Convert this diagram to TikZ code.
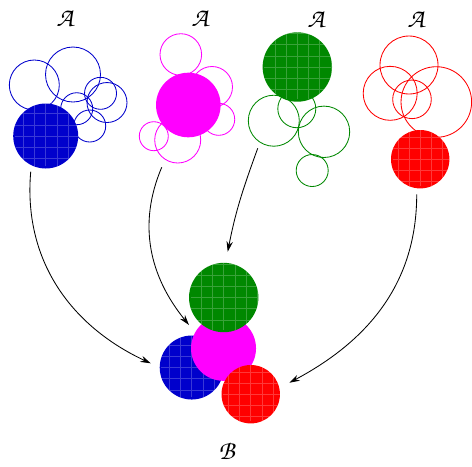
\documentclass[tikz,border=0pt]{standalone}
\usepackage[T1]{fontenc}
\usetikzlibrary{arrows.meta}
\definecolor{setBlue}{RGB}{0,0,204}
\definecolor{setMagenta}{RGB}{255,0,255}
\definecolor{setGreen}{RGB}{0,136,0}
\definecolor{setRed}{RGB}{255,0,0}
\newcommand{\chancery}{\usefont{T1}{pzc}{mb}{it}}
\tikzset{
    EMPTY/.style={inner sep=0mm, outer sep=0mm},
    LABEL/.style={inner sep=0mm, font={\fontsize{19}{22}\chancery}},
    RING/.style={shape=circle, inner sep=0mm, outer sep=0mm, line width=0.6pt},
    BALL/.style={shape=circle, inner sep=0mm, outer sep=0mm},
    CHECKED/.style={BALL, path picture={\draw[white, opacity=0.22, line width=0.4pt]
        ([shift={(0.04,0.06)}]path picture bounding box.south west) grid[step=2.8mm]
        (path picture bounding box.north east);}},
    BLUE_RING/.style={RING, draw=setBlue},
    MAGENTA_RING/.style={RING, draw=setMagenta},
    GREEN_RING/.style={RING, draw=setGreen},
    RED_RING/.style={RING, draw=setRed},
    BLUE_BALL/.style={CHECKED, fill=setBlue},
    MAGENTA_BALL/.style={BALL, fill=setMagenta},
    GREEN_BALL/.style={CHECKED, fill=setGreen},
    RED_BALL/.style={CHECKED, fill=setRed},
    EDGE/.style={draw=black, line width=0.6pt, -{Stealth[length=2.6mm, width=1.6mm]}}
}
\pgfdeclarelayer{edgelayer}
\pgfdeclarelayer{nodelayer}
\pgfsetlayers{edgelayer,nodelayer,main}

\begin{document}
\begin{tikzpicture}
    \useasboundingbox (0,0) rectangle (11.8,-11.65);
    \begin{pgfonlayer}{nodelayer}
        % the four sets A
        \node [LABEL] (1) at (1.625, -0.47) {A};
        \node [LABEL] (2) at (5.0, -0.47) {A};
        \node [LABEL] (3) at (7.9, -0.48) {A};
        \node [LABEL] (4) at (10.4, -0.48) {A};
        \node [BLUE_RING, minimum size=12.5mm] (5) at (0.858, -2.125) {};
        \node [BLUE_RING, minimum size=13.75mm] (6) at (1.825, -1.8625) {};
        \node [BLUE_RING, minimum size=8mm] (7) at (1.918, -2.718) {};
        \node [BLUE_RING, minimum size=8mm] (8) at (2.513, -2.333) {};
        \node [BLUE_RING, minimum size=10mm] (9) at (2.675, -2.563) {};
        \node [BLUE_RING, minimum size=8mm] (10) at (2.243, -3.15) {};
        \node [BLUE_BALL, minimum size=16.25mm] (11) at (1.1425, -3.4) {};
        \node [MAGENTA_RING, minimum size=10.4mm] (12) at (4.52, -1.363) {};
        \node [MAGENTA_RING, minimum size=10.25mm] (13) at (5.3, -2.175) {};
        \node [MAGENTA_RING, minimum size=8mm] (14) at (5.468, -2.983) {};
        \node [MAGENTA_RING, minimum size=11.5mm] (15) at (4.443, -3.5) {};
        \node [MAGENTA_RING, minimum size=7.25mm] (16) at (3.845, -3.405) {};
        \node [MAGENTA_BALL, minimum size=16.15mm] (17) at (4.708, -2.625) {};
        \node [GREEN_RING, minimum size=12.75mm] (18) at (6.845, -3.018) {};
        \node [GREEN_RING, minimum size=9.5mm] (19) at (7.42, -2.718) {};
        \node [GREEN_RING, minimum size=12.85mm] (20) at (8.1, -3.295) {};
        \node [GREEN_RING, minimum size=8mm] (21) at (7.805, -4.263) {};
        \node [GREEN_BALL, minimum size=17.35mm] (22) at (7.433, -1.675) {};
        \node [RED_RING, minimum size=14.5mm] (23) at (10.225, -1.625) {};
        \node [RED_RING, minimum size=13.5mm] (24) at (9.755, -2.333) {};
        \node [RED_RING, minimum size=9.65mm] (25) at (10.3, -2.483) {};
        \node [RED_RING, minimum size=17.65mm] (26) at (10.908, -2.55) {};
        \node [RED_BALL, minimum size=14.6mm] (27) at (10.505, -3.98) {};
        % the set B
        \node [BLUE_BALL, minimum size=16mm] (28) at (4.793, -9.188) {};
        \node [MAGENTA_BALL, minimum size=16.25mm] (29) at (5.588, -8.708) {};
        \node [GREEN_BALL, minimum size=17.35mm] (30) at (5.593, -7.438) {};
        \node [RED_BALL, minimum size=14.6mm] (31) at (6.268, -9.855) {};
        \node [LABEL] (32) at (5.668, -11.28) {B};
        % arrow ends
        \coordinate (33) at (0.768, -4.293);
        \coordinate (34) at (3.768, -9.083);
        \coordinate (35) at (4.043, -4.183);
        \coordinate (36) at (4.725, -8.125);
        \coordinate (37) at (6.443, -3.708);
        \coordinate (38) at (5.693, -6.293);
        \coordinate (39) at (10.418, -4.858);
        \coordinate (40) at (7.233, -9.568);
    \end{pgfonlayer}
    \begin{pgfonlayer}{edgelayer}
        \draw[EDGE] (33) to[out=-95, in=155] (34);
        \draw[EDGE] (35) to[out=-113, in=129] (36);
        \draw[EDGE] (37) to[out=-110, in=79] (38);
        \draw[EDGE] (39) to[out=-90, in=28] (40);
    \end{pgfonlayer}
\end{tikzpicture}
\end{document}
